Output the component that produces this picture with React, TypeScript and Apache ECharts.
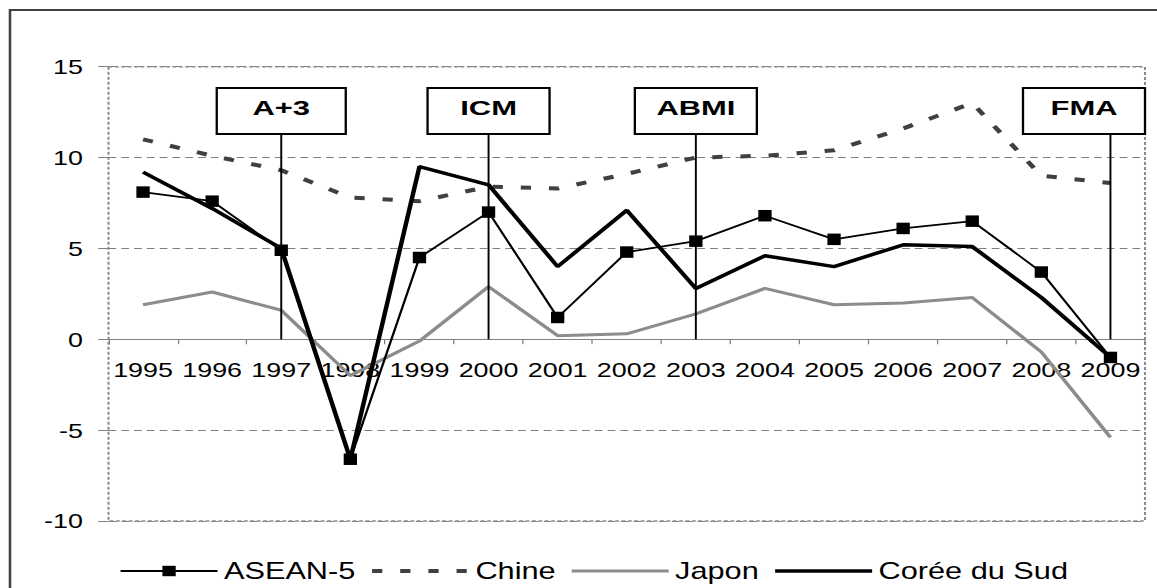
import React, { useEffect, useRef } from "react";
import * as echarts from "echarts";

// ---- data ----
const YEARS = ["1995", "1996", "1997", "1998", "1999", "2000", "2001", "2002", "2003", "2004", "2005", "2006", "2007", "2008", "2009"];
const ASEAN5 = [8.1, 7.6, 4.9, -6.6, 4.5, 7.0, 1.2, 4.8, 5.4, 6.8, 5.5, 6.1, 6.5, 3.7, -1.0];
const CHINE = [11.0, 10.1, 9.3, 7.8, 7.6, 8.4, 8.3, 9.1, 10.0, 10.1, 10.4, 11.6, 13.0, 9.0, 8.6];
const JAPON = [1.9, 2.6, 1.6, -2.0, -0.1, 2.9, 0.2, 0.3, 1.4, 2.8, 1.9, 2.0, 2.3, -0.7, -5.4];
const COREE = [9.2, 7.2, 5.0, -6.6, 9.5, 8.5, 4.0, 7.1, 2.8, 4.6, 4.0, 5.2, 5.1, 2.3, -1.0];
const SERIES_NAMES = ["ASEAN-5", "Chine", "Japon", "Corée du Sud"];
const Y_MIN = -10;
const Y_MAX = 15;
const Y_STEP = 5;
const EVENT_LABELS = ["A+3", "ICM", "ABMI", "FMA"];
const EVENT_YEARS = ["1997", "2000", "2003", "2009"];

// ---- layout / styles ----
const PAGE_W = 1157;
const PAGE_H = 588;
const S = 1.28; // horizontal stretch of the whole picture
const W = PAGE_W / S;
const H = PAGE_H;
const FONT = "'Liberation Sans', Arial, Helvetica, sans-serif";
const GRID = { left: 108.5 / S, right: W - 1145 / S, top: 66.7, bottom: H - 521 };
const PLOT_H = H - GRID.top - GRID.bottom;
const BOX_TOP = 88;
const BOX_H = 46;
const HIDDEN_SYMBOL = { color: "rgba(0,0,0,0)", opacity: 0, borderWidth: 0 };
const STYLE_ASEAN = { color: "#000", width: 1.8 };
const STYLE_CHINE = { color: "#404040", width: 4, type: [8, 14] as any };
const STYLE_JAPON = { color: "#8c8c8c", width: 3 };
const STYLE_COREE = { color: "#000", width: 3.5 };

export default function App() {
  const ref = useRef<HTMLDivElement>(null);

  useEffect(() => {
    document.body.style.margin = "0";
    const chart = echarts.init(ref.current!, null, { renderer: "svg", width: W, height: H });
    // the category axis sits on the value 0
    const zeroOffset = -((0 - Y_MIN) / (Y_MAX - Y_MIN)) * PLOT_H;
    const option: any = {
      animation: false,
      backgroundColor: "#ffffff",
      grid: { ...GRID, containLabel: false },
      legend: {
        data: [
          { name: SERIES_NAMES[0], lineStyle: STYLE_ASEAN },
          { name: SERIES_NAMES[1], itemStyle: HIDDEN_SYMBOL, lineStyle: STYLE_CHINE },
          { name: SERIES_NAMES[2], itemStyle: HIDDEN_SYMBOL, lineStyle: STYLE_JAPON },
          { name: SERIES_NAMES[3], itemStyle: HIDDEN_SYMBOL, lineStyle: STYLE_COREE },
        ],
        left: 113 / S,
        top: 554,
        itemWidth: 97 / S,
        itemHeight: 13,
        itemGap: 11,
        selectedMode: false,
        textStyle: { fontSize: 24, color: "#000", fontFamily: FONT },
      },
      xAxis: {
        type: "category",
        data: YEARS,
        boundaryGap: true,
        offset: zeroOffset,
        axisLine: { onZero: false, lineStyle: { color: "#808080", width: 1 } },
        axisTick: { show: true, length: 5, lineStyle: { color: "#808080" } },
        axisLabel: { interval: 0, margin: 20, fontSize: 21, color: "#000", fontFamily: FONT },
        splitLine: { show: false },
      },
      yAxis: {
        type: "value",
        min: Y_MIN,
        max: Y_MAX,
        interval: Y_STEP,
        axisLine: { show: false },
        axisTick: { show: true, length: 8, lineStyle: { color: "#808080" } },
        axisLabel: { margin: 20, fontSize: 21, color: "#000", fontFamily: FONT },
        splitLine: { show: true, lineStyle: { color: "#808080", width: 1, type: [6, 4] } },
      },
      series: [
        {
          name: SERIES_NAMES[0],
          type: "line",
          data: ASEAN5,
          symbol: "rect",
          symbolSize: [10.4, 11.5],
          itemStyle: { color: "#000" },
          lineStyle: STYLE_ASEAN,
          z: 5,
          silent: true,
        },
        {
          name: SERIES_NAMES[1],
          type: "line",
          data: CHINE,
          symbol: "none",
          itemStyle: { color: STYLE_CHINE.color },
          lineStyle: STYLE_CHINE,
          z: 3,
          silent: true,
        },
        {
          name: SERIES_NAMES[2],
          type: "line",
          data: JAPON,
          symbol: "none",
          itemStyle: { color: STYLE_JAPON.color },
          lineStyle: STYLE_JAPON,
          z: 3,
          silent: true,
        },
        {
          name: SERIES_NAMES[3],
          type: "line",
          data: COREE,
          symbol: "none",
          itemStyle: { color: STYLE_COREE.color },
          lineStyle: STYLE_COREE,
          z: 4,
          silent: true,
        },
      ],
    };
    chart.setOption(option);

    const gridRight = W - GRID.right;
    const graphics: any[] = [
      {
        type: "rect",
        silent: true,
        shape: { x: 10 / S, y: 10, width: W + 20, height: H + 20 },
        style: { fill: "none", stroke: "#404040", lineWidth: 2 },
        z: 0,
      },
      {
        type: "rect",
        silent: true,
        shape: { x: GRID.left, y: GRID.top, width: W - GRID.left - GRID.right, height: PLOT_H },
        style: { fill: "none", stroke: "#8a8a8a", lineWidth: 1.6, lineDash: [3, 2] },
        z: 0,
      },
    ];
    EVENT_YEARS.forEach((yr, i) => {
      const idx = YEARS.indexOf(yr);
      const p = chart.convertToPixel({ gridIndex: 0 } as any, [idx, 0]) as number[];
      const cx = p[0];
      const y0 = p[1];
      const label = EVENT_LABELS[i];
      const bw = (label === "A+3" ? 129 : 122) / S;
      let bx = cx - bw / 2;
      if (bx + bw > gridRight) bx = gridRight - bw;
      graphics.push({
        type: "line",
        silent: true,
        shape: { x1: cx, y1: y0, x2: cx, y2: BOX_TOP + BOX_H },
        style: { stroke: "#000", lineWidth: 1.5 },
        z: 10,
      });
      graphics.push({
        type: "rect",
        silent: true,
        shape: { x: bx, y: BOX_TOP, width: bw, height: BOX_H },
        style: { fill: "#fff", stroke: "#000", lineWidth: 1.8 },
        z: 11,
      });
      graphics.push({
        type: "text",
        silent: true,
        x: bx + bw / 2,
        y: BOX_TOP + BOX_H / 2 - 3.5,
        scaleX: 1.15,
        style: {
          text: label,
          fill: "#000",
          font: `bold 21px ${FONT}`,
          align: "center",
          verticalAlign: "middle",
        },
        z: 12,
      });
    });
    chart.setOption({ graphic: graphics });

    return () => chart.dispose();
  }, []);

  return (
    <div
      style={{
        position: "absolute",
        left: 0,
        top: 0,
        width: W,
        height: H,
        transform: `scaleX(${S})`,
        transformOrigin: "0 0",
      }}
    >
      <div ref={ref} style={{ width: W, height: H }} />
    </div>
  );
}
